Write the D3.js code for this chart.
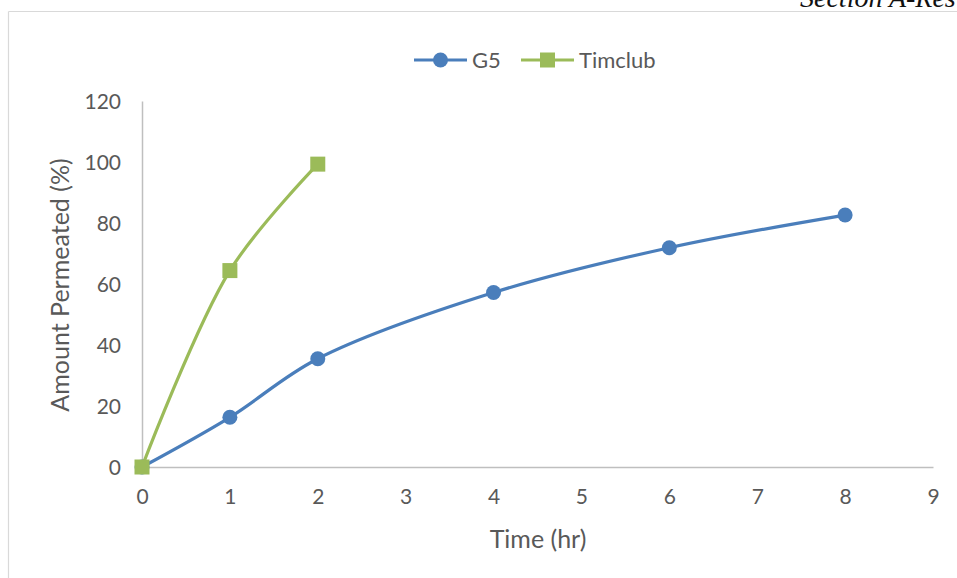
<!DOCTYPE html>
<html>
<head>
<meta charset="utf-8">
<script src="https://cdn.jsdelivr.net/npm/d3@7"></script>
<style>
  html, body { margin: 0; padding: 0; background: #fff; }
  svg { display: block; }
</style>
</head>
<body>
<svg id="chart" width="957" height="578"></svg>
<script>
// Permeation profiles
const g5Time = [0, 1, 2, 4, 6, 8];
const g5Values = [0, 16.3, 35.5, 57.2, 71.9, 82.6];
const timclubTime = [0, 1, 2];
const timclubValues = [0, 64.4, 99.3];
const xTicks = [0, 1, 2, 3, 4, 5, 6, 7, 8, 9];
const yTicks = [0, 20, 40, 60, 80, 100, 120];
const seriesNames = ["G5", "Timclub"];

const svg = d3.select("#chart");
const font = "Lato, 'Open Sans', sans-serif";
const textColor = "#595959";
const blue = "#4a7ebb";
const green = "#9bbb59";

// Page frame and running header
svg.append("line").attr("x1", 8.5).attr("x2", 957).attr("y1", 11.5).attr("y2", 11.5)
  .attr("stroke", "#d9d9d9").attr("stroke-width", 1.2);
svg.append("line").attr("x1", 8.5).attr("x2", 8.5).attr("y1", 11.5).attr("y2", 578)
  .attr("stroke", "#d9d9d9").attr("stroke-width", 1.2);
svg.append("text").attr("x", 800).attr("y", 7)
  .attr("font-family", "'Liberation Serif', 'DejaVu Serif', serif")
  .attr("font-style", "italic").attr("font-size", 28).attr("fill", "#111")
  .text("Section A-Res");

const x = d3.scaleLinear().domain([0, 9]).range([142, 933]);
const y = d3.scaleLinear().domain([0, 120]).range([467, 101]);

// Axes
const xAxis = svg.append("g").attr("transform", `translate(0,${y(0)})`)
  .call(d3.axisBottom(x).tickValues(xTicks).tickSize(0).tickPadding(22).tickFormat(d3.format("d")));
const yAxis = svg.append("g").attr("transform", `translate(${x(0)},0)`)
  .call(d3.axisLeft(y).tickValues(yTicks).tickSize(0).tickPadding(21).tickFormat(d3.format("d")));
[xAxis, yAxis].forEach(a => {
  a.select(".domain").attr("stroke", "#bfbfbf").attr("stroke-width", 1.5);
  a.selectAll("text").attr("font-family", font).attr("font-size", 21).attr("fill", textColor);
});
yAxis.selectAll("text").attr("dy", "0.36em");

// Axis titles
svg.append("text").attr("x", 538).attr("y", 548).attr("text-anchor", "middle")
  .attr("font-family", font).attr("font-size", 25).attr("fill", textColor).text("Time (hr)");
svg.append("text").attr("transform", "translate(69,285) rotate(-90)").attr("text-anchor", "middle")
  .attr("font-family", font).attr("font-size", 25).attr("fill", textColor).text("Amount Permeated (%)");

const line = d3.line().x(d => x(d[0])).y(d => y(d[1])).curve(d3.curveCatmullRom.alpha(0.5));
const g5 = g5Time.map((t, i) => [t, g5Values[i]]);
const tc = timclubTime.map((t, i) => [t, timclubValues[i]]);

svg.append("path").datum(g5).attr("d", line).attr("fill", "none")
  .attr("stroke", blue).attr("stroke-width", 3.2).attr("stroke-linecap", "round");
svg.append("path").datum(tc).attr("d", line).attr("fill", "none")
  .attr("stroke", green).attr("stroke-width", 3.2).attr("stroke-linecap", "round");

svg.selectAll("circle.g5").data(g5).enter().append("circle")
  .attr("cx", d => x(d[0])).attr("cy", d => y(d[1])).attr("r", 7.5).attr("fill", blue);
svg.selectAll("rect.tc").data(tc).enter().append("rect")
  .attr("x", d => x(d[0]) - 7.5).attr("y", d => y(d[1]) - 7.5)
  .attr("width", 15).attr("height", 15).attr("fill", green);

// Legend
const legend = svg.append("g").attr("transform", "translate(0,60)");
const legendItems = [
  { name: seriesNames[0], color: blue, x0: 414, shape: "circle" },
  { name: seriesNames[1], color: green, x0: 521, shape: "rect" }
];
legendItems.forEach(it => {
  legend.append("line").attr("x1", it.x0).attr("x2", it.x0 + 53).attr("y1", 0).attr("y2", 0)
    .attr("stroke", it.color).attr("stroke-width", 3.2);
  if (it.shape === "circle") {
    legend.append("circle").attr("cx", it.x0 + 26.5).attr("cy", 0).attr("r", 7.5).attr("fill", it.color);
  } else {
    legend.append("rect").attr("x", it.x0 + 19).attr("y", -7.5).attr("width", 15).attr("height", 15).attr("fill", it.color);
  }
  legend.append("text").attr("x", it.x0 + 58).attr("y", 0).attr("dy", "0.36em")
    .attr("font-family", font).attr("font-size", 22).attr("fill", textColor).text(it.name);
});
</script>
</body>
</html>
